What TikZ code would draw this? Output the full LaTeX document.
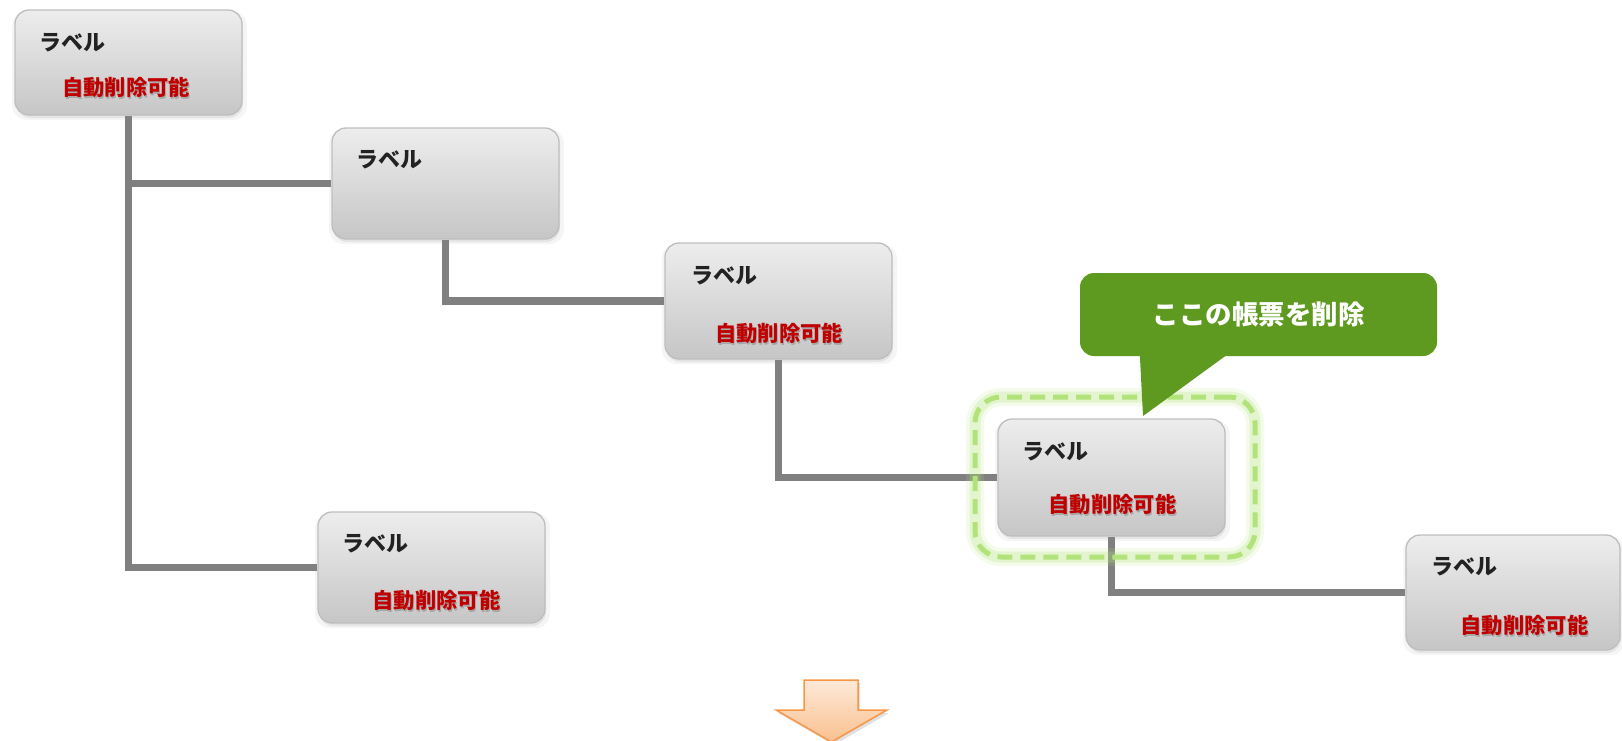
\documentclass[tikz,border=0pt]{standalone}
\usepackage{fontspec}
\newfontfamily\jp{Noto Sans CJK JP}
\usetikzlibrary{shadows,calc,backgrounds}

\definecolor{boxtop}{RGB}{237,237,237}
\definecolor{boxbot}{RGB}{198,198,198}
\definecolor{boxline}{RGB}{190,190,190}
\definecolor{linkgray}{RGB}{128,128,128}
\definecolor{labelred}{RGB}{192,0,0}
\definecolor{labelink}{RGB}{34,34,34}
\definecolor{calloutgreen}{RGB}{95,154,32}
\definecolor{hilite}{RGB}{178,226,122}
\definecolor{arrowline}{RGB}{247,150,70}
\definecolor{arrowtop}{RGB}{253,233,217}
\definecolor{arrowbot}{RGB}{250,192,143}

\tikzset{
  card/.style={rectangle, draw=boxline, line width=1.3pt, rounded corners=14pt,
    top color=boxtop, bottom color=boxbot, inner sep=0pt,
    drop shadow={shadow xshift=1pt, shadow yshift=-3pt, opacity=0.08, shadow scale=1.035},
    drop shadow={shadow xshift=1pt, shadow yshift=-3pt, opacity=0.14}},
  lbl/.style={anchor=west, inner sep=0pt, text=labelink,
    font=\jp\bfseries\fontsize{22pt}{22pt}\selectfont},
  del/.style={inner sep=0pt, text=labelred,
    font=\jp\bfseries\fontsize{21.3pt}{21.3pt}\selectfont},
  delshade/.style={inner sep=0pt, text=black, text opacity=0.18,
    font=\jp\bfseries\fontsize{21.3pt}{21.3pt}\selectfont},
  link/.style={draw=linkgray, line width=7.5pt},
  ring/.style={rectangle, minimum width=280pt, minimum height=160pt, rounded corners=26pt,
    draw=hilite, line width=5pt, dash pattern=on 15pt off 8pt,
    preaction={draw=hilite, line width=18pt, opacity=0.15, solid},
    preaction={draw=hilite, line width=11pt, opacity=0.25, solid}},
  callout/.style={rectangle, fill=calloutgreen, rounded corners=14pt,
    minimum width=357pt, minimum height=83pt, inner sep=0pt, text=white,
    font=\jp\bfseries\fontsize{26.5pt}{26.5pt}\selectfont},
}

\begin{document}
\begin{tikzpicture}[x=1pt, y=-1pt]
\useasboundingbox (0,0) rectangle (1622,740);
\clip (0,0) rectangle (1622,740);

% cards of the tree
\node[card, minimum width=227pt, minimum height=105pt] (A) at (128.5,62.5) {};
\node[card, minimum width=227pt, minimum height=111pt] (B) at (445.5,183.5) {};
\node[card, minimum width=227pt, minimum height=116pt] (C) at (778.5,301) {};
\node[card, minimum width=227pt, minimum height=117pt] (D) at (1111.5,477.5) {};
\node[card, minimum width=227pt, minimum height=111pt] (E) at (431.5,567.5) {};
\node[card, minimum width=214pt, minimum height=115pt] (F) at (1513,592.5) {};

% connectors behind the cards
\begin{scope}[on background layer]
  \draw[link] (A.south) |- (B.west);
  \draw[link] (A.south) |- (E.west);
  \draw[link] (B.south) |- (C.west);
  \draw[link] (C.south) |- (D.west);
  \draw[link] (D.south) |- (F.west);
\end{scope}

% card titles
\node[lbl] (At) at (39,43) {ラベル};
\node[lbl] (Bt) at (356,160) {ラベル};
\node[lbl] (Ct) at (691,276) {ラベル};
\node[lbl] (Dt) at (1022,452) {ラベル};
\node[lbl] (Et) at (342,544) {ラベル};
\node[lbl] (Ft) at (1431,567) {ラベル};

% deletable marks with a soft shadow
\foreach \n/\x/\y in {A/126/87, C/779/333, D/1112.5/504, E/436.5/600, F/1524.5/625}{
  \node[delshade] (\n s) at (\x+1,\y+2.5) {自動削除可能};
  \node[del] (\n d) at (\x,\y) {自動削除可能};
}

% dashed highlight around the card to delete
\node[ring] (hl) at (1115,477) {};

% callout
\node[callout] (msg) at (1258.5,314.5) {ここの帳票を削除};
\fill[calloutgreen] ($(msg.south west)+(60,-2)$) -- (1143,416) -- ($(msg.south west)+(148,-2)$) -- cycle;

% down arrow
\fill[black, opacity=0.12] (806,683) -- (860,683) -- (860,713) -- (889,713) -- (834,745) -- (778,713) -- (806,713) -- cycle;
\draw[arrowline, line width=1.5pt, top color=arrowtop, bottom color=arrowbot, line join=miter]
  (804,680) -- (858,680) -- (858,710) -- (887,710) -- (831.5,742) -- (776,710) -- (804,710) -- cycle;
\end{tikzpicture}
\end{document}
